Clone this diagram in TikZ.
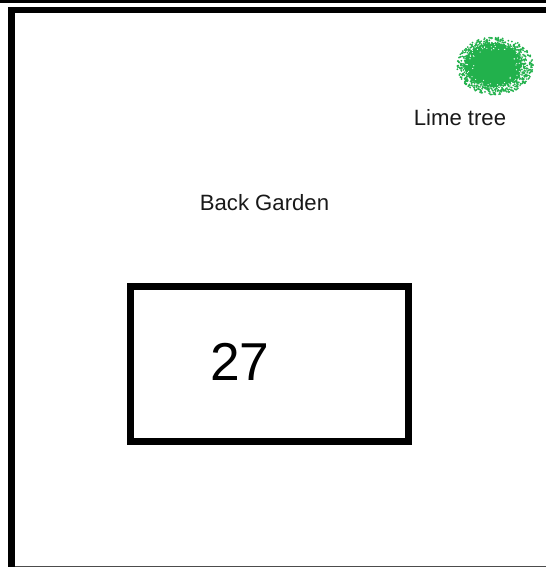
\documentclass[tikz,border=0pt]{standalone}
\usepackage{fontspec}
\setmainfont{Liberation Sans}
\usepackage{xcolor}
\definecolor{limegreen}{RGB}{34,177,76}
\begin{document}
\begin{tikzpicture}[
  x=0.75pt, y=-0.75pt,
  wall/.style={line width=5pt, line cap=butt},
  rim/.style={line width=2.4pt, line cap=butt},
  house/.style={draw, line width=5.2pt, minimum width=208.5pt, minimum height=116pt, inner sep=0pt},
  caption/.style={font=\fontsize{16.6pt}{20pt}\selectfont, text=black!90, inner sep=0pt},
  number/.style={font=\fontsize{40pt}{44pt}\selectfont, inner sep=0pt}
]
\useasboundingbox (0,0) rectangle (546,567);
\fill[white] (0,0) rectangle (546,567);
% boundary
\draw[rim] (0,1.5) -- (546,1.5);
\draw[wall] (546,10) -- (11.5,10) -- (11.5,567);
\draw[black!70, line width=0.9pt] (15,566.4) -- (546,566.4);
% house
\node[house] (house) at (269.5,364) {};
\node[number] (num) at (240,362) {27};
\node[caption] (garden) at (264.5,203) {Back Garden};
% lime tree
\fill[limegreen] (493,65) ellipse [x radius=29, y radius=22];
\pgfmathsetseed{27}
\foreach \i in {1,...,650}{
  \pgfmathsetmacro{\ang}{180*rnd*2}
  \pgfmathsetmacro{\rad}{0.68+0.32*rnd}
  \fill[limegreen] ({495+38*\rad*cos(\ang)},{66+29*\rad*sin(\ang)}) circle [radius=1];
}
\foreach \i in {1,...,110}{
  \pgfmathsetmacro{\ang}{180*rnd*2}
  \pgfmathsetmacro{\rad}{0.55+0.42*rnd}
  \fill[white] ({495+38*\rad*cos(\ang)},{66+29*\rad*sin(\ang)}) circle [radius=0.6];
}
\node[caption] (lime) at (460,118) {Lime tree};
\end{tikzpicture}
\end{document}
